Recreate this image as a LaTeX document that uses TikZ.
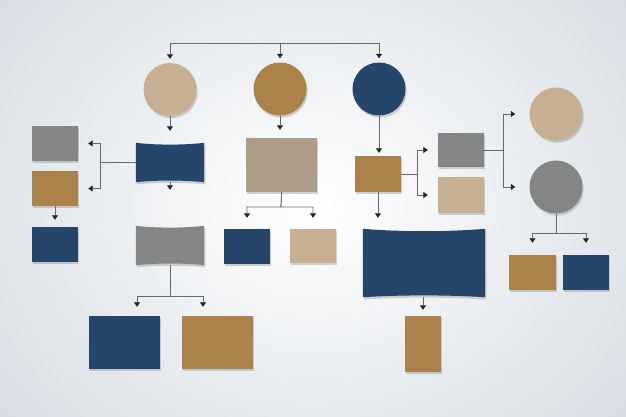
\documentclass[tikz,border=0pt]{standalone}
\usetikzlibrary{arrows.meta,shadows,calc}
\definecolor{navy}{RGB}{38,69,107}
\definecolor{bronze}{RGB}{171,130,74}
\definecolor{tan}{RGB}{199,175,146}
\definecolor{taupe}{RGB}{173,157,136}
\definecolor{slate}{RGB}{132,134,133}
\definecolor{bgout}{RGB}{208,215,222}
\definecolor{linec}{RGB}{105,105,105}
\tikzset{
  shad/.style={drop shadow={opacity=0.35,shadow xshift=1.2pt,shadow yshift=-2.2pt}},
  box/.style={rectangle,inner sep=0pt,fill=#1,shad},
  disc/.style={circle,inner sep=0pt,minimum size=53pt,fill=#1,shad},
  ghost/.style={rectangle,inner sep=0pt,draw=none,fill=none},
  ln/.style={draw=linec,line width=0.7pt},
  arr/.style={ln,-{Triangle[length=4.5pt,width=6pt,color=black!85]}},
}
\begin{document}
\begin{tikzpicture}[x=1pt,y=-1pt]
\useasboundingbox (0,0) rectangle (626,417);
\fill[bgout] (0,0) rectangle (626,417);
\shade[inner color=white,outer color=bgout] (-170,-190) rectangle (796,600);

% circles
\node[disc=tan]    (c1) at (170,89.5) {};
\node[disc=bronze] (c2) at (280,89) {};
\node[disc=navy]   (c3) at (379,89) {};
\node[disc=tan]    (c4) at (556,114) {};
\node[disc=slate]  (c5) at (556,187) {};

% boxes
\node[box=slate, minimum width=46pt,minimum height=35pt] (lg) at (55,143.5) {};
\node[box=bronze,minimum width=46pt,minimum height=35pt] (lb) at (55,188.5) {};
\node[box=navy,  minimum width=46pt,minimum height=35pt] (ln) at (55,244.5) {};
\node[box=navy,  minimum width=71pt,minimum height=53pt] (bn) at (124.5,342.5) {};
\node[box=bronze,minimum width=71pt,minimum height=53pt] (bb) at (217.5,342.5) {};
\node[box=taupe, minimum width=71pt,minimum height=54pt] (t1) at (281.5,165) {};
\node[box=navy,  minimum width=46pt,minimum height=35pt] (sn) at (247,246.5) {};
\node[box=tan,   minimum width=46pt,minimum height=34pt] (st) at (313,246) {};
\node[box=bronze,minimum width=46pt,minimum height=36pt] (rb) at (378,174) {};
\node[box=slate, minimum width=46pt,minimum height=34pt] (rg) at (461,150) {};
\node[box=tan,   minimum width=46pt,minimum height=36pt] (rt) at (461,195) {};
\node[box=bronze,minimum width=47pt,minimum height=35pt] (fb) at (532.5,272.5) {};
\node[box=navy,  minimum width=46pt,minimum height=35pt] (fn) at (586,272.5) {};
\node[box=bronze,minimum width=36pt,minimum height=56pt] (tb) at (423,344) {};

% wavy boxes
\node[ghost,minimum width=68pt,minimum height=39pt]  (b1)  at (170,162.5) {};
\node[ghost,minimum width=68pt,minimum height=39pt]  (g1)  at (170,245.5) {};
\node[ghost,minimum width=122pt,minimum height=68pt] (big) at (424,263) {};
\fill[navy,shad] (b1.north west) .. controls +(20,2.4) and +(-20,2.4) .. (b1.north east)
  -- (b1.south east) .. controls +(-20,-2.2) and +(20,-2.2) .. (b1.south west) -- cycle;
\fill[slate,shad] (g1.north west) .. controls +(20,2.4) and +(-20,2.4) .. (g1.north east)
  -- (g1.south east) .. controls +(-20,-2.2) and +(20,-2.2) .. (g1.south west) -- cycle;
\fill[navy,shad] (big.north west) .. controls +(40,3.2) and +(-40,3.2) .. (big.north east)
  -- (big.south east) .. controls +(-40,-2.4) and +(40,-2.4) .. (big.south west) -- cycle;

% connectors
\coordinate (bus) at (280,43);
\draw[ln] (c1 |- bus) -- (c3 |- bus);
\draw[arr,shorten >=4pt] (c1 |- bus) -- (c1.north);
\draw[arr,shorten >=4pt] (c2 |- bus) -- (c2.north);
\draw[arr,shorten >=4pt] (c3 |- bus) -- (c3.north);

\draw[arr,shorten >=12pt] (c1.south) -- (b1.north);
\draw[arr,shorten >=36pt] (b1.south) -- (g1.north);
\coordinate (j1) at (100,162.5);
\draw[arr,shorten >=10pt] (b1.west) -- (j1) |- (lg.east);
\draw[arr,shorten >=10pt] (b1.west) -- (j1) |- (lb.east);
\draw[arr,shorten >=7pt] (lb.south) -- (ln.north);

\coordinate (j2) at (170,296);
\draw[arr,shorten >=9pt] (g1.south) -- (j2) -| ([xshift=12.5pt]bn.north);
\draw[arr,shorten >=9pt] (g1.south) -- (j2) -| ([xshift=-14.5pt]bb.north);

\draw[arr,shorten >=8pt] (c2.south) -- (c2.south |- t1.north);
\coordinate (j3) at (281,207);
\draw[arr,shorten >=11pt] (t1.south) -- (j3) -| (sn.north);
\draw[arr,shorten >=11pt] (t1.south) -- (j3) -| (st.north);

\draw[arr,shorten >=3pt] (c3.south) -- (c3.south |- rb.north);
\coordinate (j4) at (417,174);
\draw[arr,shorten >=10pt] (rb.east) -- (j4) |- (rg.west);
\draw[arr,shorten >=10pt] (rb.east) -- (j4) |- (rt.west);
\draw[arr,shorten >=11pt] (rb.south) -- (rb.south |- big.north);

\coordinate (j5) at (503,150);
\draw[arr,shorten >=14pt] (rg.east) -- (j5) |- (c4.west);
\draw[arr,shorten >=14pt] (rg.east) -- (j5) |- (c5.west);

\coordinate (j6) at (556,233);
\draw[arr,shorten >=12pt] (c5.south) -- (j6) -| (fb.north);
\draw[arr,shorten >=12pt] (c5.south) -- (j6) -| (fn.north);

\draw[arr,shorten >=6pt] (big.south -| tb.north) -- (tb.north);
\end{tikzpicture}
\end{document}
